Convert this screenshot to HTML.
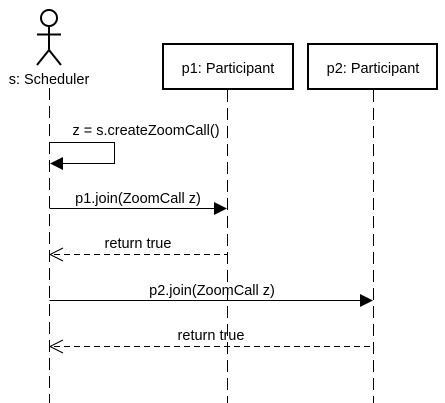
<!DOCTYPE html>
<html><head><style>html,body{margin:0;padding:0;background:#fff;}svg{display:block}</style></head>
<body>
<svg width="445" height="403" viewBox="0 0 445 403" xmlns="http://www.w3.org/2000/svg" font-family="Liberation Sans, sans-serif" font-size="14.5" fill="#000">
<g stroke="#000" fill="none" stroke-width="2">
<circle cx="49" cy="18" r="8"/>
<line x1="49" y1="26" x2="49" y2="50"/>
<line x1="37" y1="34.5" x2="61" y2="34.5"/>
<line x1="49" y1="50" x2="37" y2="65"/>
<line x1="49" y1="50" x2="61" y2="65"/>
<rect x="163" y="44" width="130" height="45"/>
<rect x="308" y="44" width="129" height="45"/>
</g>
<g stroke="#000" stroke-width="1" stroke-dasharray="12 6">
<line x1="49.5" y1="88" x2="49.5" y2="403"/>
<line x1="227.5" y1="90" x2="227.5" y2="403"/>
<line x1="373.5" y1="90" x2="373.5" y2="403"/>
</g>
<text x="49" y="84" text-anchor="middle">s: Scheduler</text>
<text x="228" y="73" text-anchor="middle">p1: Participant</text>
<text x="373" y="73" text-anchor="middle">p2: Participant</text>
<g stroke="#000" stroke-width="1" fill="none">
<polyline points="49.5,142.5 114.5,142.5 114.5,163.5 60,163.5"/>
<line x1="49.5" y1="208.5" x2="216" y2="208.5"/>
<line x1="54" y1="254.5" x2="227" y2="254.5" stroke-dasharray="6 4"/>
<line x1="49.5" y1="300.5" x2="362" y2="300.5"/>
<line x1="54" y1="346.5" x2="373" y2="346.5" stroke-dasharray="6 4"/>
<polyline points="63,248 50,254.5 63,261"/>
<polyline points="63,340 50,346.5 63,353"/>
</g>
<polygon points="50,163.5 63,157 63,170"/>
<polygon points="227,208.5 214,202 214,215"/>
<polygon points="373,300.5 360,294 360,307"/>
<text x="146" y="135" text-anchor="middle">z = s.createZoomCall()</text>
<text x="138" y="203" text-anchor="middle">p1.join(ZoomCall z)</text>
<text x="138" y="248" text-anchor="middle">return true</text>
<text x="212" y="295" text-anchor="middle">p2.join(ZoomCall z)</text>
<text x="211" y="340" text-anchor="middle">return true</text>
</svg>
</body></html>
